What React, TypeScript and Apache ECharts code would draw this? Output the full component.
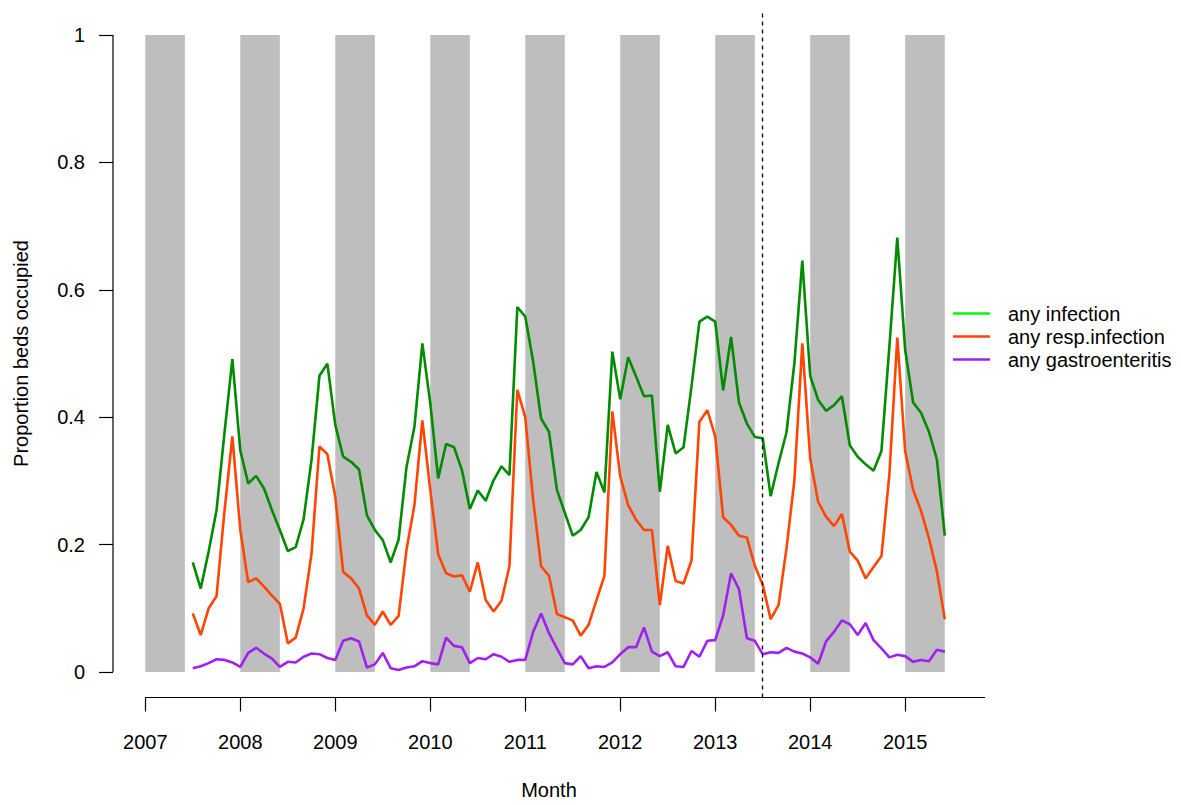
import React, { useEffect, useRef } from "react";
import * as echarts from "echarts";

// Monthly time points: July 2007 .. June 2015 (decimal years)
const firstMonth = 2007 + 6 / 12;
const nMonths = 96;
const months: number[] = Array.from({ length: nMonths }, (_, i) => firstMonth + i / 12);

const yearTicks = [2007, 2008, 2009, 2010, 2011, 2012, 2013, 2014, 2015];
const yTicks = [0, 0.2, 0.4, 0.6, 0.8, 1];

// Winter shading: January to May of each year
const bandStarts = [2007, 2008, 2009, 2010, 2011, 2012, 2013, 2014, 2015];
const bandLength = 5 / 12;

const cutoff = 2013.5;

const anyInfection = [
  0.172, 0.131, 0.189, 0.254, 0.375, 0.491,
  0.348, 0.296, 0.308, 0.288, 0.254, 0.223, 0.190, 0.196, 0.240, 0.333, 0.465, 0.484,
  0.388, 0.338, 0.330, 0.318, 0.246, 0.223, 0.207, 0.172, 0.208, 0.322, 0.385, 0.516,
  0.422, 0.304, 0.358, 0.353, 0.317, 0.256, 0.285, 0.269, 0.301, 0.323, 0.309, 0.573,
  0.558, 0.487, 0.398, 0.377, 0.286, 0.250, 0.214, 0.223, 0.243, 0.314, 0.282, 0.503,
  0.428, 0.494, 0.464, 0.433, 0.434, 0.283, 0.388, 0.343, 0.353, 0.448, 0.550, 0.558,
  0.550, 0.442, 0.526, 0.423, 0.390, 0.369, 0.367, 0.276, 0.328, 0.376, 0.485, 0.646,
  0.465, 0.427, 0.410, 0.419, 0.433, 0.356, 0.338, 0.326, 0.316, 0.347, 0.511, 0.682,
  0.505, 0.423, 0.407, 0.377, 0.334, 0.214,
];

const anyResp = [
  0.092, 0.058, 0.100, 0.119, 0.252, 0.370,
  0.223, 0.141, 0.147, 0.134, 0.120, 0.107, 0.045, 0.054, 0.100, 0.186, 0.354, 0.342,
  0.275, 0.157, 0.147, 0.131, 0.089, 0.074, 0.095, 0.074, 0.088, 0.192, 0.262, 0.395,
  0.286, 0.185, 0.155, 0.150, 0.152, 0.126, 0.172, 0.113, 0.095, 0.112, 0.166, 0.443,
  0.400, 0.270, 0.166, 0.151, 0.091, 0.086, 0.081, 0.057, 0.074, 0.113, 0.151, 0.409,
  0.307, 0.262, 0.239, 0.223, 0.223, 0.105, 0.198, 0.143, 0.139, 0.175, 0.393, 0.411,
  0.370, 0.243, 0.231, 0.214, 0.211, 0.167, 0.137, 0.083, 0.105, 0.194, 0.301, 0.516,
  0.335, 0.267, 0.244, 0.229, 0.248, 0.189, 0.175, 0.147, 0.165, 0.182, 0.310, 0.525,
  0.346, 0.286, 0.253, 0.210, 0.158, 0.083,
];

const anyGastro = [
  0.006, 0.009, 0.014, 0.020, 0.019, 0.015,
  0.008, 0.030, 0.038, 0.029, 0.021, 0.008, 0.016, 0.015, 0.024, 0.029, 0.028, 0.022,
  0.019, 0.049, 0.053, 0.048, 0.007, 0.012, 0.030, 0.006, 0.003, 0.007, 0.009, 0.017,
  0.014, 0.012, 0.054, 0.041, 0.039, 0.014, 0.022, 0.020, 0.028, 0.024, 0.016, 0.019,
  0.019, 0.063, 0.092, 0.061, 0.037, 0.014, 0.012, 0.025, 0.006, 0.009, 0.008, 0.015,
  0.028, 0.039, 0.039, 0.070, 0.032, 0.025, 0.031, 0.009, 0.008, 0.033, 0.024, 0.049,
  0.050, 0.089, 0.155, 0.130, 0.053, 0.049, 0.028, 0.031, 0.030, 0.038, 0.032, 0.029,
  0.023, 0.013, 0.048, 0.063, 0.081, 0.075, 0.058, 0.077, 0.050, 0.037, 0.023, 0.027,
  0.025, 0.016, 0.019, 0.017, 0.035, 0.032,
];

const seriesNames = ["any infection", "any resp.infection", "any gastroenteritis"];
const lineColors = ["#008B00", "#FF4500", "#A020F0"];
const legendColors = ["#00FF00", "#FF4500", "#A020F0"];

const FONT = "'Liberation Sans', Arial, Helvetica, sans-serif";

// R-style axis ranges (4% padding)
const xDataMin = 2007, xDataMax = 2015.5;
const xPad = (xDataMax - xDataMin) * 0.04;
const xMin = xDataMin - xPad, xMax = xDataMax + xPad;
const yMin = -0.04, yMax = 1.04;

export default function App() {
  const ref = useRef<HTMLDivElement>(null);
  useEffect(() => {
    if (!ref.current) return;
    const chart = echarts.init(ref.current, null, { renderer: "svg" });
    const values = [anyInfection, anyResp, anyGastro];
    const lineSeries = values.map((vals, k) => ({
      name: seriesNames[k],
      type: "line",
      z: 3,
      showSymbol: false,
      symbol: "none",
      data: months.map((m, i) => [m, vals[i]]),
      lineStyle: { color: lineColors[k], width: 2.6 },
      itemStyle: { color: lineColors[k] },
      markLine: k === 0 ? {
        silent: true,
        symbol: "none",
        label: { show: false },
        lineStyle: { color: "#000", type: [4, 4], width: 1.3 },
        data: [{ xAxis: cutoff }],
      } : undefined,
    }));
    chart.setOption({
      animation: false,
      textStyle: { fontFamily: FONT },
      grid: { left: 113, right: 196, top: 9.5, bottom: 107.5, containLabel: false },
      legend: {
        orient: "vertical",
        left: 953,
        top: 302,
        padding: 0,
        itemGap: 0,
        itemWidth: 37,
        itemHeight: 2.5,
        icon: "rect",
        textStyle: { fontSize: 20, color: "#000", fontFamily: FONT, lineHeight: 23, padding: [0, 0, 0, 13] },
        data: seriesNames.map((n, k) => ({ name: n, itemStyle: { color: legendColors[k] } })),
      },
      xAxis: {
        type: "value",
        min: xMin,
        max: xMax,
        name: "Month",
        nameLocation: "middle",
        nameGap: 82,
        nameTextStyle: { fontSize: 20, color: "#000", fontFamily: FONT },
        axisLine: { show: false, onZero: false },
        splitLine: { show: false },
        axisTick: { show: true, length: 14, customValues: yearTicks, lineStyle: { color: "#000", width: 1.2 } },
        axisLabel: { customValues: yearTicks, fontSize: 20, color: "#000", margin: 34, fontFamily: FONT, formatter: (v: number) => String(Math.round(v)) },
      },
      yAxis: {
        type: "value",
        min: yMin,
        max: yMax,
        name: "Proportion beds occupied",
        nameLocation: "middle",
        nameGap: 82,
        nameTextStyle: { fontSize: 20, color: "#000", fontFamily: FONT },
        axisLine: { show: false, onZero: false },
        splitLine: { show: false },
        axisTick: { show: true, length: 14, customValues: yTicks, lineStyle: { color: "#000", width: 1.2 } },
        axisLabel: { customValues: yTicks, fontSize: 20, color: "#000", margin: 28, fontFamily: FONT, formatter: (v: number) => String(Math.round(v * 10) / 10) },
      },
      series: [
        {
          name: "winter",
          type: "custom",
          z: 1,
          silent: true,
          clip: true,
          data: bandStarts.map((s) => [s, s + bandLength]),
          encode: { x: [0, 1] },
          renderItem: (params: any, api: any) => {
            const a = api.coord([api.value(0), 1]);
            const b = api.coord([api.value(1), 0]);
            return {
              type: "rect",
              shape: { x: a[0], y: a[1], width: b[0] - a[0], height: b[1] - a[1] },
              style: { fill: "#BEBEBE" },
            };
          },
        },
        {
          name: "yaxisline",
          type: "line",
          z: 2,
          silent: true,
          symbol: "none",
          clip: false,
          data: [[xMin, 0], [xMin, 1]],
          lineStyle: { color: "#000", width: 1.2 },
        },
        {
          name: "xaxisline",
          type: "line",
          z: 2,
          silent: true,
          symbol: "none",
          clip: false,
          data: [[yearTicks[0], yMin], [xMax, yMin]],
          lineStyle: { color: "#000", width: 1.2 },
        },
        ...lineSeries,
      ],
    });
    return () => chart.dispose();
  }, []);
  return (
    <div
      ref={ref}
      style={{ position: "fixed", left: 0, top: 0, width: 1181, height: 805, background: "#fff" }}
    />
  );
}
